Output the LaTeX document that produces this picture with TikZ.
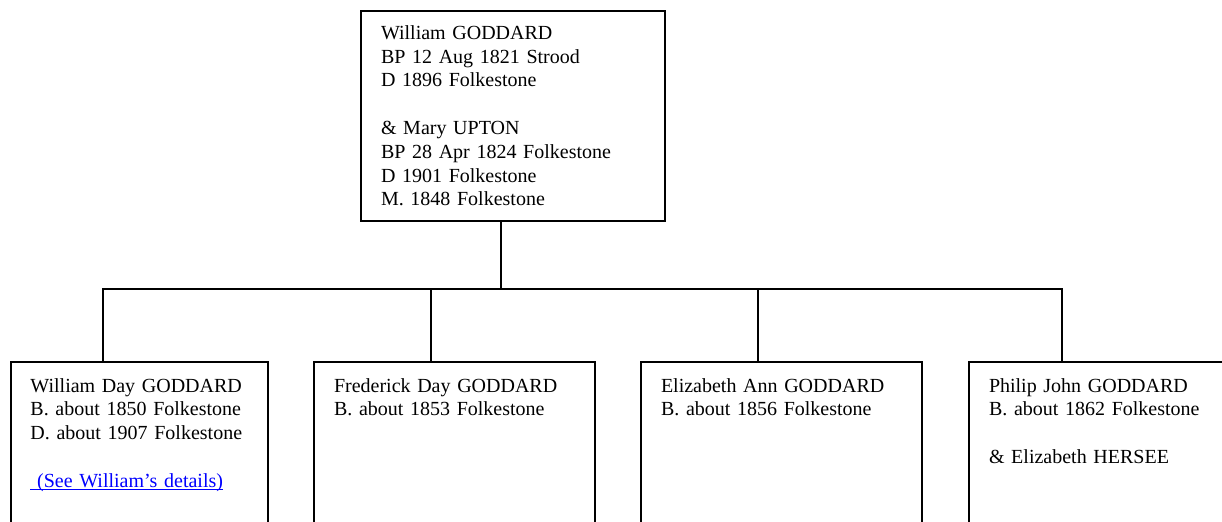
\documentclass[tikz,border=0pt]{standalone}
\usepackage{fontspec}
\setmainfont{Liberation Serif}
\usepackage{tikz}
\newcommand{\seelink}[1]{\setbox0\hbox{#1}\rlap{\rule[-1.6pt]{\wd0}{0.6pt}}\box0}

\begin{document}
\begin{tikzpicture}[x=0.5pt,y=-0.5pt,
  person/.style={draw,line width=1pt,anchor=north west,align=left,
    inner xsep=10pt,inner ysep=0pt,font=\fontsize{10pt}{11.9pt}\selectfont},
  child/.style={person,text height=15pt,text depth=90pt},
  link/.style={line width=0.9pt}]
\useasboundingbox (0,0) rectangle (1222,521);
\clip (0,0) rectangle (1222,521);
\node[person,text width=132pt,text height=14.15pt,text depth=90.85pt] (parents) at (360,10)
  {William GODDARD\\BP 12 Aug 1821 Strood\\D 1896 Folkestone\\[11.9pt]
   \& Mary UPTON\\BP 28 Apr 1824 Folkestone\\D 1901 Folkestone\\M. 1848 Folkestone};
\node[child,text width=108.75pt] (william) at (9.5,361)
  {William Day GODDARD\\B. about 1850 Folkestone\\D. about 1907 Folkestone\\[11.9pt]
   \textcolor{blue}{\seelink{\ (See William's details)}}};
\node[child,text width=120.5pt] (frederick) at (313,361)
  {Frederick Day GODDARD\\B. about 1853 Folkestone};
\node[child,text width=120.5pt] (elizabeth) at (640,361)
  {Elizabeth Ann GODDARD\\B. about 1856 Folkestone};
\node[child,text width=130pt] (philip) at (968,361)
  {Philip John GODDARD\\B. about 1862 Folkestone\\[11.9pt]\& Elizabeth HERSEE};
\coordinate (bar) at (500.7,289);
\coordinate (stem) at ([xshift=70.35pt]parents.south west);
\coordinate (wtop) at ([xshift=46.9pt]william.north west);
\coordinate (ftop) at ([xshift=59pt]frederick.north west);
\coordinate (etop) at ([xshift=59pt]elizabeth.north west);
\coordinate (ptop) at ([xshift=47pt]philip.north west);
\draw[link] (stem) -- (stem |- bar);
\draw[link] (wtop) -- (wtop |- bar) -- (ptop |- bar) -- (ptop);
\draw[link] (ftop) -- (ftop |- bar);
\draw[link] (etop) -- (etop |- bar);
\end{tikzpicture}
\end{document}
